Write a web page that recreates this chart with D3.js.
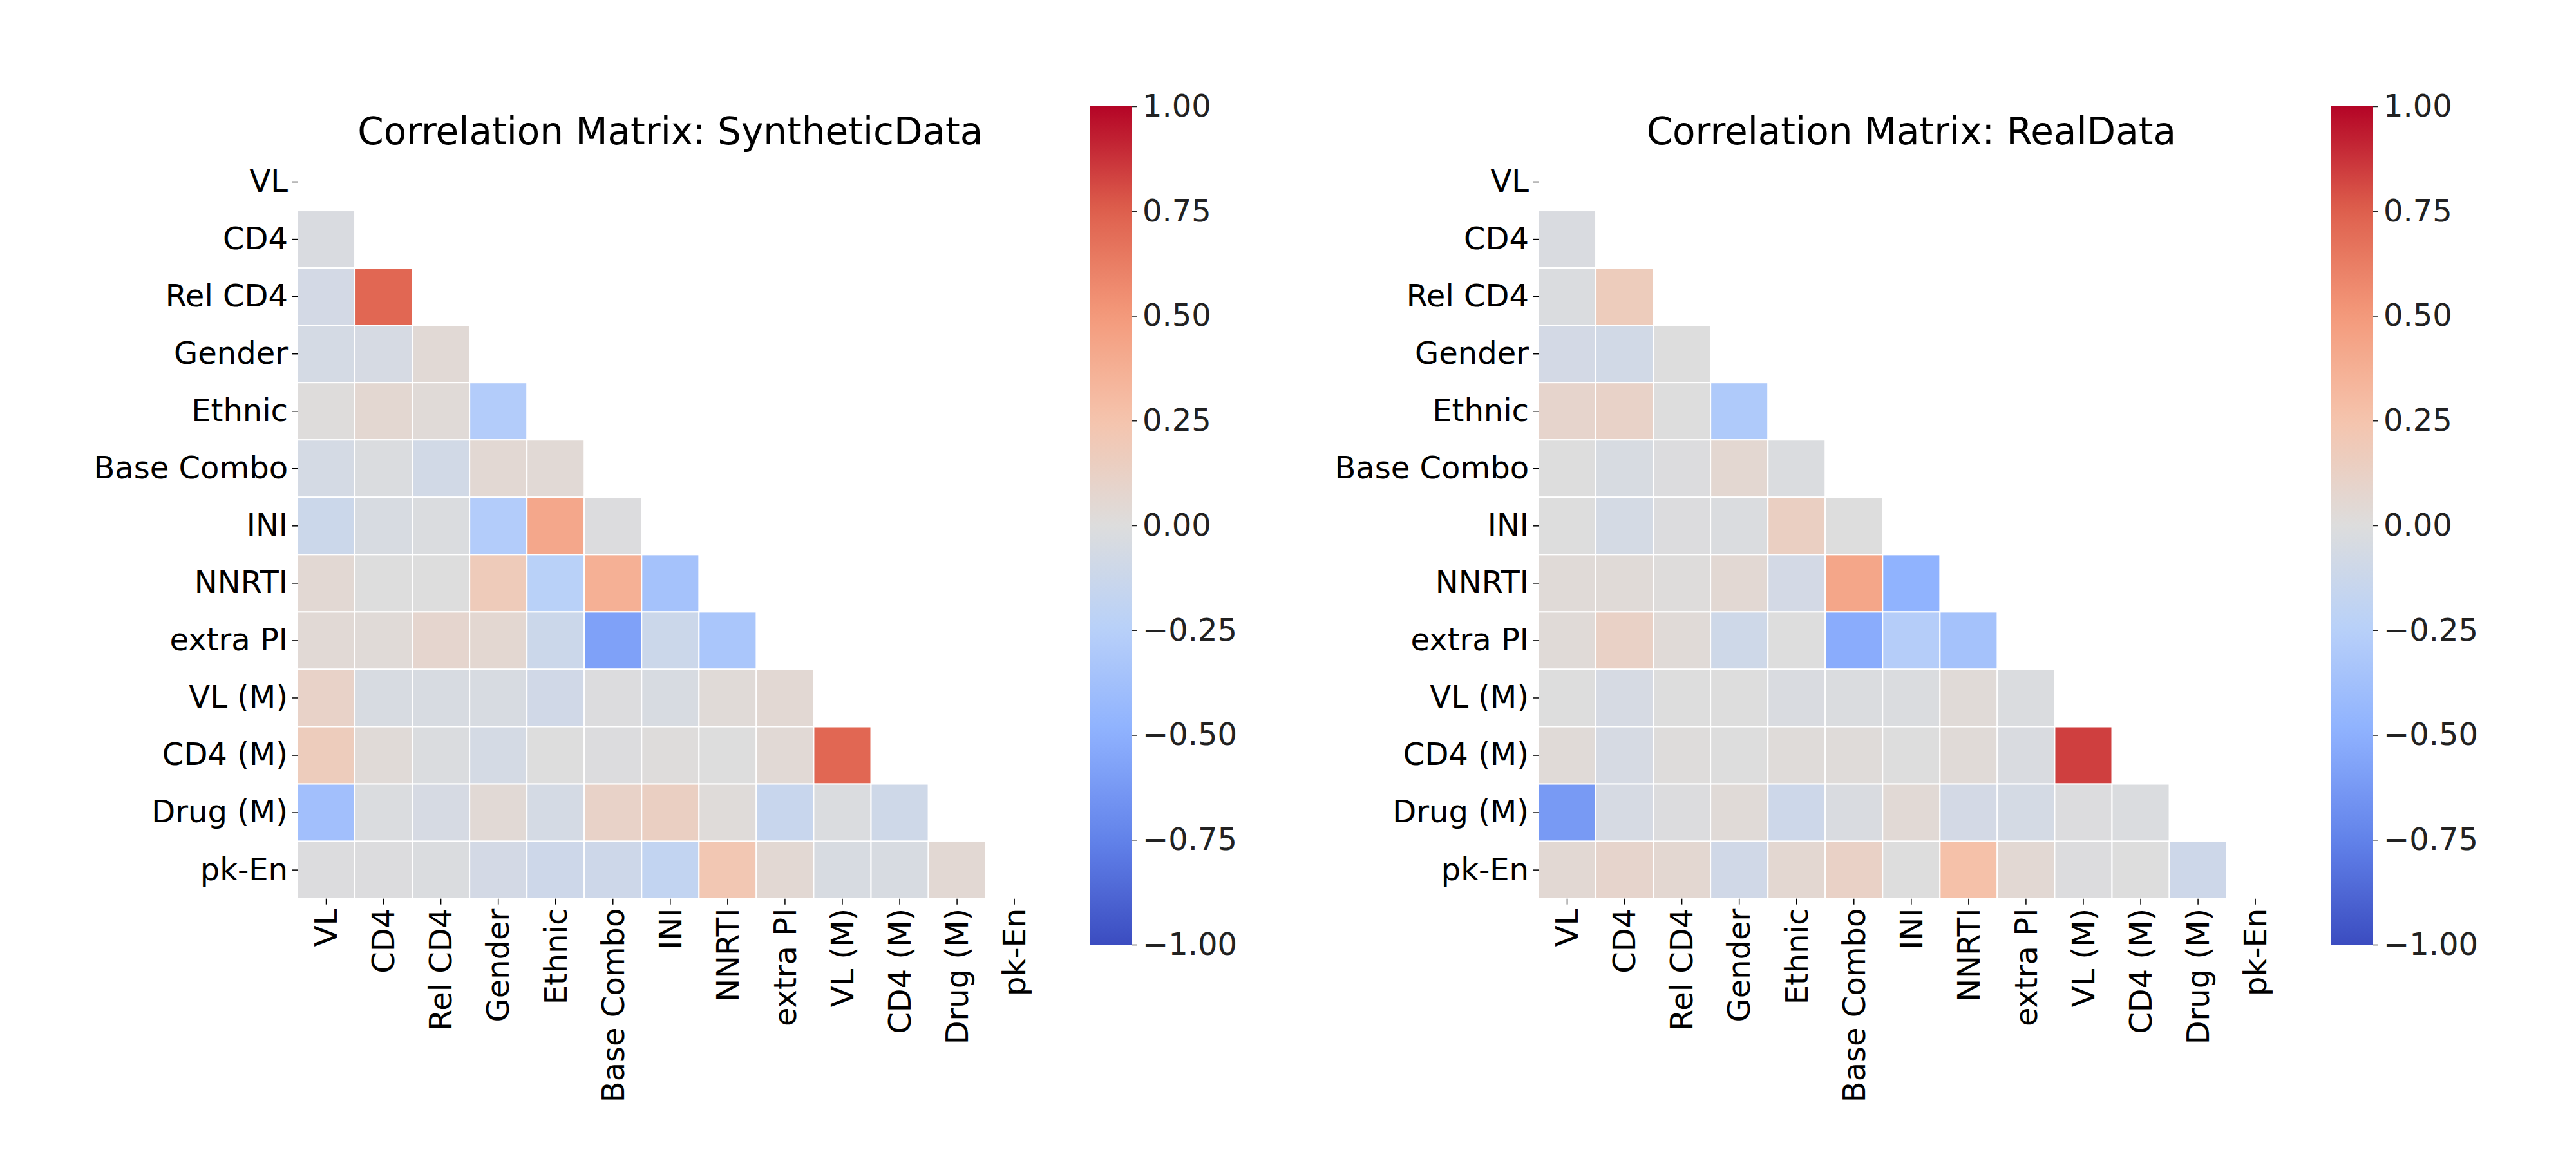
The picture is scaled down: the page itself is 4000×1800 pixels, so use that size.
<!DOCTYPE html>
<html>
<head>
<meta charset="utf-8">
<script src="https://cdn.jsdelivr.net/npm/d3@7"></script>
<style>
  html, body { margin: 0; padding: 0; background: #fff; }
  svg { display: block; }
  text { font-family: "DejaVu Sans", sans-serif; }
</style>
</head>
<body>
<svg id="chart" width="4000" height="1800"></svg>
<script>
// ---------------- DATA ----------------
const variables = ["VL", "CD4", "Rel CD4", "Gender", "Ethnic", "Base Combo", "INI",
                   "NNRTI", "extra PI", "VL (M)", "CD4 (M)", "Drug (M)", "pk-En"];

// lower-triangle correlations (row i, columns 0..i-1)
const syntheticCorr = [
  [],
  [-0.03],
  [-0.07, 0.72],
  [-0.06, -0.05, 0.04],
  [0.01, 0.06, 0.03, -0.28],
  [-0.06, -0.02, -0.08, 0.05, 0.04],
  [-0.12, -0.04, -0.02, -0.28, 0.42, -0.01],
  [0.05, 0.00, 0.00, 0.18, -0.24, 0.37, -0.36],
  [0.04, 0.03, 0.08, 0.06, -0.12, -0.58, -0.12, -0.33],
  [0.11, -0.04, -0.04, -0.04, -0.09, -0.01, -0.04, 0.03, 0.05],
  [0.17, 0.03, -0.02, -0.06, 0.00, -0.01, 0.01, 0.00, 0.04, 0.72],
  [-0.38, -0.02, -0.05, 0.04, -0.06, 0.11, 0.14, 0.02, -0.14, -0.02, -0.10],
  [-0.01, -0.01, -0.02, -0.07, -0.11, -0.11, -0.18, 0.22, 0.05, -0.04, -0.04, 0.05]
];

const realCorr = [
  [],
  [-0.03],
  [-0.02, 0.17],
  [-0.07, -0.08, 0.00],
  [0.09, 0.11, 0.00, -0.30],
  [0.00, -0.04, -0.01, 0.06, -0.02],
  [0.00, -0.06, -0.01, -0.02, 0.14, 0.00],
  [0.03, 0.03, 0.01, 0.05, -0.07, 0.43, -0.48],
  [0.03, 0.12, 0.03, -0.10, 0.00, -0.52, -0.27, -0.36],
  [0.00, -0.05, 0.00, 0.00, -0.03, -0.02, -0.02, 0.03, -0.02],
  [0.03, -0.05, 0.01, 0.00, 0.02, 0.02, 0.00, 0.03, -0.03, 0.84],
  [-0.62, -0.05, -0.01, 0.03, -0.11, -0.03, 0.04, -0.07, -0.06, -0.01, -0.02],
  [0.05, 0.09, 0.06, -0.09, 0.06, 0.12, 0.00, 0.27, 0.05, -0.01, 0.00, -0.11]
];

const panelTitles = ["Correlation Matrix: SyntheticData", "Correlation Matrix: RealData"];
const colorbarTicks = [1.0, 0.75, 0.5, 0.25, 0.0, -0.25, -0.5, -0.75, -1.0];

// coolwarm colormap anchors (matplotlib)
const coolwarmStops = [
  [59, 76, 192], [98, 130, 234], [141, 176, 254], [184, 208, 249],
  [221, 221, 221], [245, 196, 173], [244, 154, 123], [222, 96, 77], [180, 4, 38]
];

// ---------------- DRAW ----------------
const svg = d3.select("#chart");
const interp = d3.piecewise(d3.interpolateRgb, coolwarmStops.map(c => d3.rgb(c[0], c[1], c[2])));
const color = d3.scaleSequential(interp).domain([-1, 1]);

const cell = 89.05;
const n = variables.length;
const panels = [
  { x0: 462, y0: 238, data: syntheticCorr, title: panelTitles[0], cbX: 1693 },
  { x0: 2389, y0: 238, data: realCorr, title: panelTitles[1], cbX: 3620 }
];
const cbTop = 165, cbBottom = 1467, cbW = 65;

// gradient
const defs = svg.append("defs");
const grad = defs.append("linearGradient").attr("id", "cwgrad")
  .attr("x1", 0).attr("y1", 1).attr("x2", 0).attr("y2", 0);
d3.range(0, 1.0001, 0.02).forEach(t => {
  grad.append("stop").attr("offset", t).attr("stop-color", interp(t));
});

panels.forEach(p => {
  const g = svg.append("g");
  const x = d3.scaleBand().domain(variables).range([p.x0, p.x0 + n * cell]);
  const y = d3.scaleBand().domain(variables).range([p.y0, p.y0 + n * cell]);

  const cells = [];
  p.data.forEach((row, i) => row.forEach((v, j) => cells.push({ r: variables[i], c: variables[j], v })));

  g.selectAll("rect.cell").data(cells).enter().append("rect")
    .attr("class", "cell")
    .attr("x", d => x(d.c)).attr("y", d => y(d.r))
    .attr("width", x.bandwidth()).attr("height", y.bandwidth())
    .attr("fill", d => color(d.v))
    .attr("stroke", "#ffffff").attr("stroke-width", 2);

  // y axis
  const yAxis = g.append("g").attr("transform", `translate(${p.x0},0)`)
    .call(d3.axisLeft(y).tickSize(9).tickPadding(6));
  yAxis.select(".domain").remove();
  yAxis.selectAll("line").attr("stroke", "#000").attr("stroke-width", 1.5);
  yAxis.selectAll("text").attr("font-size", 48).attr("fill", "#000")
    .attr("font-family", "DejaVu Sans");

  // x axis
  const xAxis = g.append("g").attr("transform", `translate(0,${p.y0 + n * cell})`)
    .call(d3.axisBottom(x).tickSize(9).tickPadding(6));
  xAxis.select(".domain").remove();
  xAxis.selectAll("line").attr("stroke", "#000").attr("stroke-width", 1.5);
  xAxis.selectAll("text").attr("font-size", 48).attr("fill", "#000")
    .attr("font-family", "DejaVu Sans")
    .attr("text-anchor", "end")
    .attr("dy", "0.35em")
    .attr("transform", "rotate(-90)")
    .attr("x", -15).attr("y", 0);

  // title
  g.append("text").attr("x", p.x0 + n * cell / 2).attr("y", 224)
    .attr("text-anchor", "middle").attr("font-size", 58).attr("fill", "#000")
    .text(p.title);

  // colorbar
  g.append("rect").attr("x", p.cbX).attr("y", cbTop).attr("width", cbW)
    .attr("height", cbBottom - cbTop).attr("fill", "url(#cwgrad)");
  const cy = d3.scaleLinear().domain([-1, 1]).range([cbBottom, cbTop]);
  const cAxis = g.append("g").attr("transform", `translate(${p.cbX + cbW},0)`)
    .call(d3.axisRight(cy).tickValues(colorbarTicks).tickFormat(d3.format(".2f")).tickSize(8).tickPadding(8));
  cAxis.select(".domain").remove();
  cAxis.selectAll("line").attr("stroke", "#222").attr("stroke-width", 1.5);
  cAxis.selectAll("text").attr("font-size", 48).attr("fill", "#222")
    .attr("font-family", "DejaVu Sans");
});
</script>
</body>
</html>
